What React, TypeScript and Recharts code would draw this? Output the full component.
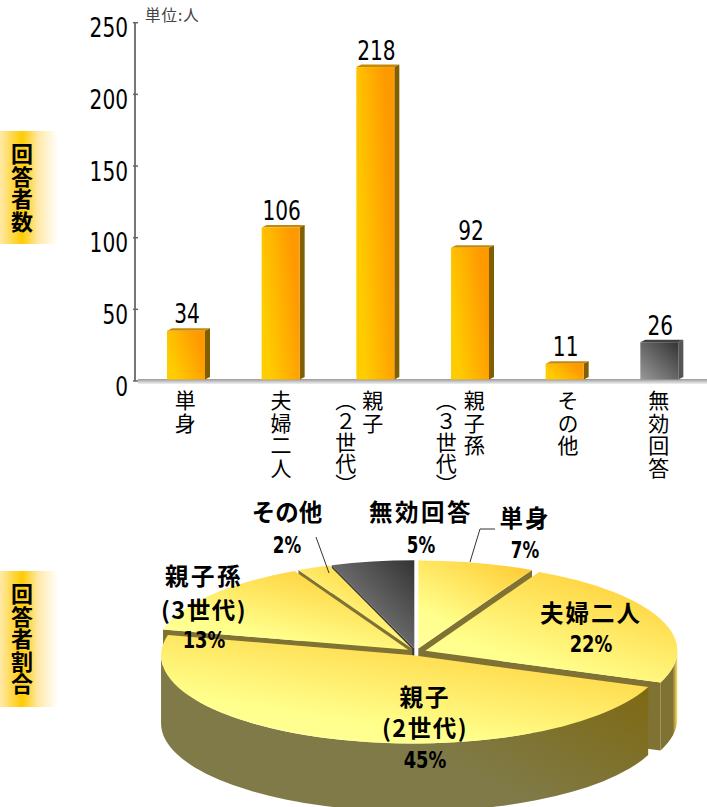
import React from 'react';
import { BarChart, Bar, XAxis, YAxis, PieChart, Pie } from 'recharts';

// Respondents by household type
const categories = ['単身', '夫婦二人', '親子（２世代）', '親子孫（３世代）', 'その他', '無効回答'];
const counts = [34, 106, 218, 92, 11, 26];
const yTicks = [0, 50, 100, 150, 200, 250];

// Share of respondents, as printed beside each slice
const sliceNames = ['単身', '夫婦二人', '親子', '親子孫', 'その他', '無効回答'];
const slicePercents = [7, 22, 45, 13, 2, 5];

const barRows = categories.map((name, i) => ({ name, count: counts[i] }));

// The disc is painted in two sweeps from twelve o'clock so that nearer slices
// cover farther ones: the left half runs counter-clockwise, the right half clockwise.
const percentTotal = slicePercents.reduce((a, b) => a + b, 0);
const rightOrder = [0, 1, 2];
const leftOrder = [5, 4, 3];
const rowsOf = (order: number[]) => order.map((i) => ({ name: sliceNames[i], value: slicePercents[i] }));
const sweepOf = (order: number[]) => (order.reduce((a, i) => a + slicePercents[i], 0) / percentTotal) * 360;
const rightRows = rowsOf(rightOrder);
const leftRows = rowsOf(leftOrder);

const FONT_CJK = '"Noto Sans CJK JP", sans-serif';
const FONT_NUM = '"DejaVu Sans", sans-serif';

const DIGIT_W = 12.8;

// Squeezed numerals for the axis and the bar values
function NumText({ x, y, text, anchor }: any) {
  return (
    <text
      x={x}
      y={y}
      textAnchor={anchor}
      fontFamily={FONT_NUM}
      fontSize={27}
      fill="#000"
      textLength={String(text).length * DIGIT_W}
      lengthAdjust="spacingAndGlyphs"
    >
      {text}
    </text>
  );
}

function YTick({ x, y, payload }: any) {
  return (
    <g>
      <line x1={x} x2={x + 5} y1={y} y2={y} stroke="#666" strokeWidth={1.5} />
      <NumText x={x - 5} y={y + 14.5} text={payload.value} anchor="end" />
    </g>
  );
}

// Label columns for each category: [offset from the band centre, text], read right to left
const tickColumns: Record<string, [number, string][]> = {
  '単身': [[-1, '単身']],
  '夫婦二人': [[0, '夫婦二人']],
  '親子（２世代）': [[-3, '親子'], [-30, '（２世代）']],
  '親子孫（３世代）': [[4, '親子孫'], [-24, '（３世代）']],
  'その他': [[3, 'その他']],
  '無効回答': [[-1, '無効回答']],
};

function XTick({ x, y, payload }: any) {
  const cols = tickColumns[payload.value] || [];
  return (
    <g>
      {cols.map(([dx, t]) => (
        <text
          key={t}
          x={x + dx}
          y={y + 7}
          fontFamily={FONT_CJK}
          fontSize={21}
          letterSpacing={t.startsWith('（') ? 0 : 1.5}
          fill="#000"
          style={{ writingMode: 'vertical-rl' } as any}
        >
          {t}
        </text>
      ))}
    </g>
  );
}

// Extruded bar: front face, top face and right side face
function BoxBar({ x, y, width, height, name }: any) {
  const grey = name === '無効回答';
  const lift = 1.5;
  const dx = 5;
  const dy = 2.5;
  const top = y - lift;
  const right = x + width;
  const bottom = top + height;
  return (
    <g>
      <polygon
        points={`${x},${top} ${x + dx},${top - dy} ${right + dx},${top - dy} ${right},${top}`}
        fill={grey ? '#404040' : '#C48A08'}
      />
      <polygon
        points={`${right},${top} ${right + dx},${top - dy} ${right + dx},${bottom - dy} ${right},${bottom}`}
        fill={grey ? '#555555' : '#7F5F00'}
      />
      <rect x={x} y={top} width={width} height={height} fill={grey ? 'url(#frontGrey)' : 'url(#frontOrange)'} />
    </g>
  );
}

function BarValue({ x, y, width, value }: any) {
  return <NumText x={x + width / 2 + 1} y={y - 9} text={value} anchor="middle" />;
}

// Pie geometry: the disc is squashed into an ellipse and extruded downward
const TILT = 0.35;
const DEPTH = 68;
const EXPLODE = 10;

const RAD = Math.PI / 180;

function Slice({ cx, cy, outerRadius, startAngle, endAngle, name }: any) {
  const rx = outerRadius;
  const ry = outerRadius * TILT;
  // Clockwise bearings from twelve o'clock, whichever way the sweep ran
  const bearings = [90 - startAngle, 90 - endAngle].sort((a, b) => a - b);
  const t1 = bearings[0];
  const t2 = bearings[1];
  const tm = ((t1 + t2) / 2) * RAD;
  const ax = cx + EXPLODE * Math.sin(tm);
  const ay = cy - EXPLODE * TILT * Math.cos(tm);
  const at = (t: number) => [ax + rx * Math.sin(t * RAD), ay - ry * Math.cos(t * RAD)];
  const [p1x, p1y] = at(t1);
  const [p2x, p2y] = at(t2);
  const large = t2 - t1 > 180 ? 1 : 0;
  const grey = name === '無効回答';
  const wall = grey ? '#3C3C3C' : name === '夫婦二人' ? 'url(#wallEdge)' : 'url(#wallOlive)';
  const cut = grey ? '#3C3C3C' : '#7F7232';
  // Only the parts of the rim and the cut faces turned toward the viewer are drawn
  const w1 = Math.max(t1, 90);
  const w2 = Math.min(t2, 270);
  const [q1x, q1y] = at(w1);
  const [q2x, q2y] = at(w2);
  const showStart = Math.sin(t1 * RAD) < 0;
  const showEnd = Math.sin(t2 * RAD) > 0;
  return (
    <g>
      {showStart && (
        <polygon points={`${ax},${ay} ${p1x},${p1y} ${p1x},${p1y + DEPTH} ${ax},${ay + DEPTH}`} fill={cut} />
      )}
      {showEnd && (
        <polygon points={`${ax},${ay} ${p2x},${p2y} ${p2x},${p2y + DEPTH} ${ax},${ay + DEPTH}`} fill={cut} />
      )}
      {w2 > w1 && (
        <path
          d={`M${q1x},${q1y} A${rx},${ry} 0 0 1 ${q2x},${q2y} L${q2x},${q2y + DEPTH} A${rx},${ry} 0 0 0 ${q1x},${q1y + DEPTH} Z`}
          fill={wall}
        />
      )}
      <path
        d={`M${ax},${ay} L${p1x},${p1y} A${rx},${ry} 0 ${large} 1 ${p2x},${p2y} Z`}
        fill={grey ? 'url(#topGrey)' : 'url(#topYellow)'}
      />
    </g>
  );
}

// Text placement beside each slice: centre x, offset from the pie centre, and leader line
const sliceLabels: Record<string, { dx: number; gap: number; lines: [string, number][]; leader?: string }> = {
  '単身': { dx: 109, gap: 2, lines: [['単身', -125], ['7%', -94]], leader: '79,-123 64,-123 54,-90' },
  '夫婦二人': { dx: 175, gap: 2, lines: [['夫婦二人', -30], ['22%', 0]] },
  '親子': { dx: 9, gap: 2, lines: [['親子', 54], ['(2世代)', 85], ['45%', 116]] },
  '親子孫': { dx: -212, gap: 2.5, lines: [['親子孫', -67], ['(3世代)', -33], ['13%', -4]] },
  'その他': { dx: -129, gap: 0, lines: [['その他', -131], ['2%', -99]], leader: '-100,-115 -87,-79' },
  '無効回答': { dx: 5, gap: 2.5, lines: [['無効回答', -131], ['5%', -99]] },
};

function SliceLabel({ cx, cy, name }: any) {
  const spec = sliceLabels[name];
  if (!spec) return null;
  return (
    <g>
      {spec.leader && (
        <polyline
          points={spec.leader
            .split(' ')
            .map((p) => {
              const [a, b] = p.split(',').map(Number);
              return `${cx + a},${cy + b}`;
            })
            .join(' ')}
          fill="none"
          stroke="#333"
          strokeWidth={1}
        />
      )}
      {spec.lines.map(([t, dy]) => {
        const numeric = t.endsWith('%');
        return numeric ? (
          <text
            key={t}
            x={cx + spec.dx}
            y={cy + dy}
            textAnchor="middle"
            fontFamily={FONT_NUM}
            fontWeight={700}
            fontSize={23}
            fill="#000"
            textLength={t.length * 14.2}
            lengthAdjust="spacingAndGlyphs"
          >
            {t}
          </text>
        ) : (
          <text
            key={t}
            x={cx + spec.dx}
            y={cy + dy}
            textAnchor="middle"
            fontFamily={FONT_CJK}
            fontWeight={700}
            fontSize={23.5}
            letterSpacing={t.startsWith('(') ? 1.5 : spec.gap}
            fill="#000"
          >
            {t}
          </text>
        );
      })}
    </g>
  );
}

function SideBanner({ top, height, text }: { top: number; height: number; text: string }) {
  return (
    <div
      style={{
        position: 'absolute',
        left: 0,
        top,
        width: 58,
        height,
        background: 'linear-gradient(90deg, #FFE9A8 0%, #FFCC00 38%, #FFE9A8 66%, #FFFFFF 100%)',
        display: 'flex',
        alignItems: 'center',
        justifyContent: 'center',
      }}
    >
      <span
        style={{
          writingMode: 'vertical-rl',
          fontFamily: FONT_CJK,
          fontWeight: 700,
          fontSize: 22,
          lineHeight: 1,
          color: '#000',
          marginRight: 14,
          letterSpacing: 0.5,
        }}
      >
        {text}
      </span>
    </div>
  );
}

const PIE_CX = 416;
const PIE_CY = 162;
const PIE_R = 252;

export default function App() {
  return (
    <div style={{ position: 'absolute', left: 0, top: 0, width: 707, height: 807, overflow: 'hidden', background: '#fff' }}>
      <svg width={0} height={0} style={{ position: 'absolute' }}>
        <defs>
          <linearGradient id="frontOrange" x1="0" y1="0.7" x2="1" y2="0.3">
            <stop offset="0.1" stopColor="#FFCC00" />
            <stop offset="0.9" stopColor="#FF9900" />
          </linearGradient>
          <linearGradient id="frontGrey" x1="0" y1="1" x2="1" y2="0">
            <stop offset="0" stopColor="#999999" />
            <stop offset="1" stopColor="#333333" />
          </linearGradient>
          <linearGradient id="floorBand" x1="0" y1="0" x2="0" y2="1">
            <stop offset="0" stopColor="#9A9A9A" />
            <stop offset="1" stopColor="#F0F0F0" />
          </linearGradient>
          <linearGradient id="topYellow" x1="0.15" y1="1" x2="0.85" y2="0">
            <stop offset="0" stopColor="#FFFF99" />
            <stop offset="0.25" stopColor="#FFFF8C" />
            <stop offset="1" stopColor="#FFCC33" />
          </linearGradient>
          <linearGradient id="topGrey" x1="0" y1="1" x2="1" y2="0">
            <stop offset="0" stopColor="#999999" />
            <stop offset="1" stopColor="#333333" />
          </linearGradient>
          <linearGradient id="wallOlive" x1="0" y1="0.6" x2="1" y2="0">
            <stop offset="0.4" stopColor="#7F7A48" />
            <stop offset="1" stopColor="#7F6608" />
          </linearGradient>
          <linearGradient id="wallEdge" x1="0" y1="0" x2="1" y2="0">
            <stop offset="0.72" stopColor="#7F7232" />
            <stop offset="1" stopColor="#FFE066" />
          </linearGradient>
        </defs>
      </svg>

      <SideBanner top={131} height={113} text="回答者数" />
      <SideBanner top={571} height={136} text="回答者割合" />

      <div style={{ position: 'absolute', left: 0, top: 0 }}>
        <BarChart
          width={707}
          height={510}
          data={barRows}
          margin={{ top: 22.7, right: 0, bottom: 0, left: 0 }}
          barSize={38}
        >
          <rect x={138} y={379} width={569} height={5} fill="url(#floorBand)" />
          <XAxis
            dataKey="name"
            interval={0}
            axisLine={false}
            tickLine={false}
            tickSize={0}
            height={129}
            padding={{ left: 4, right: 0 }}
            tick={<XTick />}
          />
          <YAxis
            domain={[0, 250]}
            ticks={yTicks}
            width={135}
            tickSize={0}
            tickLine={false}
            axisLine={{ stroke: '#777', strokeWidth: 2 }}
            tick={<YTick />}
          />
          <Bar
            dataKey="count"
            isAnimationActive={false}
            shape={<BoxBar />}
            label={<BarValue />}
          />
        </BarChart>
      </div>

      <svg width={80} height={40} style={{ position: 'absolute', left: 143, top: 0 }}>
        <text x={2} y={21} fontFamily={FONT_CJK} fontSize={15.5} letterSpacing={1} fill="#444">
          単位:人
        </text>
      </svg>

      <div style={{ position: 'absolute', left: 0, top: 490 }}>
        <PieChart width={707} height={317} margin={{ top: 0, right: 0, bottom: 0, left: 0 }}>
          <Pie
            data={leftRows}
            dataKey="value"
            nameKey="name"
            cx={PIE_CX}
            cy={PIE_CY}
            innerRadius={0}
            outerRadius={PIE_R}
            startAngle={90}
            endAngle={90 + sweepOf(leftOrder)}
            stroke="none"
            isAnimationActive={false}
            shape={<Slice />}
            labelLine={false}
            label={<SliceLabel />}
          />
          <Pie
            data={rightRows}
            dataKey="value"
            nameKey="name"
            cx={PIE_CX}
            cy={PIE_CY}
            innerRadius={0}
            outerRadius={PIE_R}
            startAngle={90}
            endAngle={90 - sweepOf(rightOrder)}
            stroke="none"
            isAnimationActive={false}
            shape={<Slice />}
            labelLine={false}
            label={<SliceLabel />}
          />
        </PieChart>
      </div>
    </div>
  );
}
